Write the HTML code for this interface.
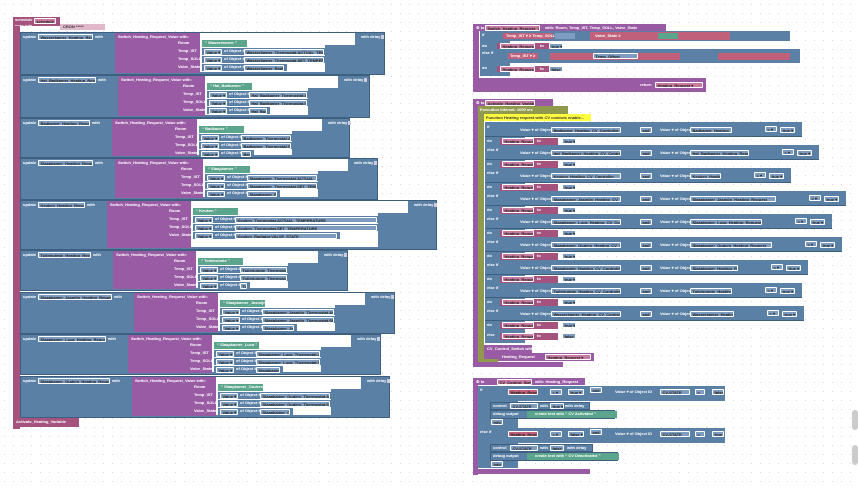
<!DOCTYPE html>
<html><head><meta charset="utf-8"><style>
html,body{margin:0;padding:0}
body{width:858px;height:488px;position:relative;overflow:hidden;background:#fff;
background-image:radial-gradient(#d8d8d8 0.6px,transparent 0.8px);background-size:9px 9px;
font-family:"Liberation Sans",sans-serif;font-size:4px;font-weight:bold;color:#fff}
.b{position:absolute;box-sizing:border-box}
.t{position:absolute;white-space:nowrap;line-height:6px}
.p{position:absolute;box-sizing:border-box;height:6px;border:0.6px solid #fff;border-radius:1px;overflow:hidden;white-space:nowrap;line-height:5px;padding-left:1.5px;color:#222}
</style></head><body>
<div id="c"></div>
<script>
var c=document.getElementById('c'),h='';
function R(x,y,w,hh,col,extra){h+='<div class="b" style="left:'+x+'px;top:'+y+'px;width:'+w+'px;height:'+hh+'px;background:'+col+';'+(extra||'')+'"></div>';}
function T(x,y,s,col){h+='<div class="t" style="left:'+x+'px;top:'+y+'px;color:'+(col||'#fff')+'">'+s+'</div>';}
function P(x,y,w,col,s){h+='<div class="p" style="left:'+x+'px;top:'+y+'px;width:'+w+'px;background:'+col+'">'+(s||'')+'</div>';}
var PK='#a5537e',BL='#5b80a5',PU='#9a5ba5',GR='#5ba58c',OL='#8f9a4d';
R(13,17,47,9,PK);T(15,17,'schedule');P(34,18,22,'#c97aa0','schedule');
T(15,23,'cron rule');R(60,24,45,6,'#e0b8cc');T(63,24,'CRON  *****','#333');
R(13,26,7,403,PK);
var U=[[32,75,385,115,200,355,'Wasserkamer_Heating_Request'],[75,118,370,118,205,338,'Hal_Badkamer_Heating_Request'],[118,158,350,112,197,322,'Badkamer_Heating_Request'],[158,200,378,115,203,348,'Slaapkamer_Heating_Request'],[200,250,437,107,191,408,'Keuken_Heating_Request'],[250,291,348,113,196,318,'Toiletruimte_Heating_Request'],[292,334,395,134,218,365,'Slaapkamer_Jasmijn_Heating_Request'],[334,375,381,128,212,351,'Slaapkamer_Luca_Heating_Request'],[376,418,390,132,216,361,'Slaapkamer_Ouders_Heating_Request']];
U.forEach(function(u){var y=u[0],y2=u[1];
R(20,y,u[2]-20,y2-y,BL,'border:0.5px solid #3f5f80');
T(23,y+2,'update');P(38,y+2,u[3]-60,'#7d9cbf',u[6]);T(u[3]-20,y+2,'with');
R(u[3],y+1,u[4]-u[3],y2-y-3,PU);T(u[3]+3,y+2,'Switch_Heating_Request_Value  with:');
R(u[4],y+1,u[5]-u[4],12,'#fff');
R(u[4],y+13,u[5]-u[4]-30,y2-y-16,'#fff');
T(u[5]+6,y+2,'with delay');R(u[5]+26,y+3,3,4,'#ccd');
var labs=['Room','Temp_IST','Temp_SOLL','Valve_State'];
labs.forEach(function(l,i){var yy=y+8+i*8;T(u[4]-22,yy,l);
if(i==0){R(u[4]+2,yy,45,7,GR);T(u[4]+5,yy,'“ '+u[6].split('_Heat')[0]+' ”');}
else{var w=u[5]-u[4]-(i==3?70:30);R(u[4]+2,yy,w,7,BL);P(u[4]+4,yy+0.5,18,'#7d9cbf','Value ▾');T(u[4]+24,yy,'of Object ID');P(u[4]+44,yy+0.5,w-45,'#7d9cbf',u[6].split('_Heat')[0]+'_'+['','Thermostat.ACTUAL_TEMPERATURE','Thermostat.SET_TEMPERATURE','Radiator.VALVE_STATE'][i]);}
});});
R(13,418,66,9,PK);T(16,419,'Activate_Heating_Variable');
R(473,24,193,7,PU);T(476,25,'⚙ to');P(485,25,55,'#c97aa0','Switch_Heating_Request_Value');T(545,25,'with: Room, Temp_IST, Temp_SOLL, Valve_State');
R(473,30,6,62,PU);
R(480,31,310,10,BL);T(482,32,'if');R(503,33,50,6,'#c0607a');T(506,33,'Temp_IST ▾  ≥  Temp_SOLL ▾');R(555,33,20,6,'#7d9cbf');R(590,32,140,8,'#c0607a');T(595,33,'Valve_State  ≥');R(658,33,20,6,GR);
R(480,41,30,8,BL);T(482,43,'do');R(497,43,65,6,PK);P(500,43,35,'#c97aa0','Heating_Request ▾');T(540,43,'to');P(549,43,14,'#7d9cbf','true ▾');
R(480,49,320,14,BL);T(482,50,'else if');R(508,53,30,6,'#c0607a');T(510,53,'Temp_IST ▾ ≥');R(550,53,130,7,'#c0607a');P(593,53,45,'#7d9cbf','Temp_Offset');R(718,53,72,7,'#c0607a');
R(480,63,30,13,BL);T(482,65,'do');R(497,66,65,6,PK);P(500,66,35,'#c97aa0','Heating_Request ▾');T(540,66,'to');P(549,66,14,'#7d9cbf','false ▾');
R(473,78,233,14,PU);T(640,82,'return');P(655,82,48,'#c97aa0','Heating_Request ▾');
R(473,99,80,7,PU);T(476,100,'⚙ to');P(485,100,50,'#c97aa0','Activate_Heating_Variable');
R(473,106,6,260,PU);R(478,106,90,8,OL);T(480,107,'Execution interval: 1000 ms');
R(478,114,6,245,OL);R(484,114,107,7,'#ffff40');T(486,115,'Function Heating request with CV controls enable...','#333');
var ends=[802,819,791,846,832,842,808,802,804];
var names=['Badkamer','Hal_Badkamer','Keuken','Slaapkamer_Jasmijn','Slaapkamer_Luca','Slaapkamer_Ouders','Slaapkamer','Toiletruimte','Wasserkamer'];
for(var i=0;i<9;i++){var y=122+i*23;
R(485,y,ends[i]-485,15,BL,'border-bottom:0.5px solid #3f5f80');T(487,y+2,i?'else if':'if');
T(520,y+5,'Value ▾ of Object ID');P(551,y+5,70,'#7d9cbf',names[i]+'_Heating_CV_Controller');P(640,y+5,12,'#7d9cbf','and');T(660,y+5,'Value ▾ of Object ID');P(690,y+5,ends[i]-760,'#7d9cbf',names[i]+'_Heating_Request');P(ends[i]-37,y+4,12,'#7d9cbf','= ▾');P(ends[i]-22,y+5,15,'#7d9cbf','true ▾');
R(485,y+15,40,8,BL);T(487,y+16,'do');R(500,y+16,58,7,PK);P(502,y+16,32,'#c97aa0','Heating_Request ▾');T(537,y+16,'to');P(562,y+16,14,'#7d9cbf','true ▾');}
R(485,329,40,14,BL);T(487,332,'else');R(500,333,58,7,PK);P(502,333,32,'#c97aa0','Heating_Request ▾');T(537,333,'to');P(562,333,14,'#7d9cbf','false ▾');
R(484,345,48,16,PU);T(487,346,'CV_Control_Switch   with:');R(484,353,110,8,PU);T(502,354,'Heating_Request');P(545,354,46,'#c97aa0','Heating_Request ▾');
R(478,359,20,4,OL);R(473,362,90,5,PU);
R(473,378,112,7,PU);T(476,379,'⚙ to');P(497,379,35,'#c97aa0','CV_Control_Switch');T(535,379,'with: Heating_Request');
R(473,385,5,90,PU);
R(478,386,247,15,BL);T(480,387,'if');P(508,389,30,'#c0607a','Heating_Request ▾');P(550,389,12,'#7d9cbf','= ▾');P(568,389,16,'#7d9cbf','true ▾');P(590,387,12,'#7d9cbf','and');T(615,389,'Value ▾ of Object ID');P(660,389,30,'#7d9cbf','CV-STATE');P(695,389,10,'#7d9cbf','=');P(712,389,12,'#7d9cbf','false');
R(478,401,40,27,BL);R(490,402,100,8,BL,'border:0.5px solid #3f5f80');T(493,403,'control');P(510,403,28,'#7d9cbf','CV-STATE');T(540,403,'with');P(550,403,14,'#7d9cbf','true ▾');T(565,403,'with delay');
R(490,410,125,9,BL,'border:0.5px solid #3f5f80');T(493,411,'debug output');R(527,411,90,7,GR);T(535,411,'create text with   “ CV Activated ”');
P(491,419,12,'#7d9cbf','info ▾');
R(478,428,247,15,BL);T(480,429,'else if');P(508,431,30,'#c0607a','Heating_Request ▾');P(550,431,12,'#7d9cbf','= ▾');P(568,431,16,'#7d9cbf','false ▾');P(590,429,12,'#7d9cbf','and');T(615,431,'Value ▾ of Object ID');P(660,431,30,'#7d9cbf','CV-STATE');P(695,431,10,'#7d9cbf','=');P(712,431,12,'#7d9cbf','true');
R(478,443,40,25,BL);R(490,444,103,8,BL,'border:0.5px solid #3f5f80');T(493,445,'control');P(510,445,28,'#7d9cbf','CV-STATE');T(540,445,'with');P(550,445,14,'#7d9cbf','false ▾');T(567,445,'with delay');
R(490,452,128,9,BL,'border:0.5px solid #3f5f80');T(493,453,'debug output');R(527,453,92,7,GR);T(535,453,'create text with   “ CV Deactivated ”');
P(491,461,12,'#7d9cbf','info ▾');
R(473,469,117,5,PU);
R(852,410,6,20,'#ccc','border-radius:3px');R(852,445,6,20,'#ccc','border-radius:3px');
c.innerHTML=h;
</script>
</body></html>
